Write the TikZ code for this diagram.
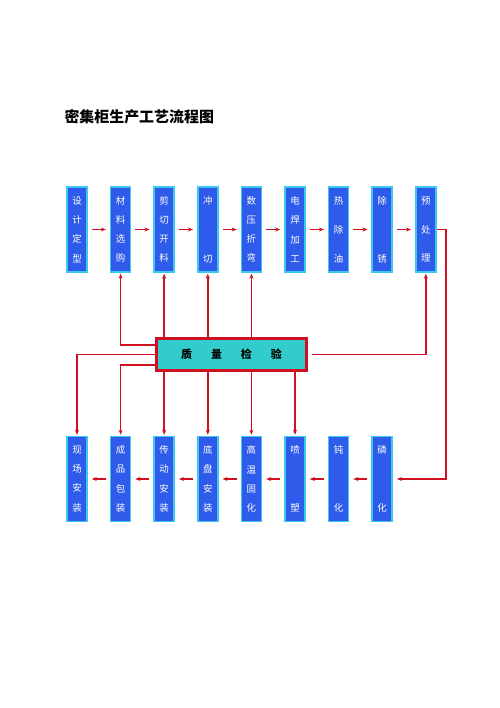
\documentclass[tikz,border=0pt]{standalone}
\usepackage{fontspec}
\newfontfamily\cjk{Noto Sans CJK SC}
\usetikzlibrary{arrows.meta}
\definecolor{boxblue}{HTML}{2E5BEA}
\definecolor{boxrim}{HTML}{3DC8F0}
\definecolor{checkfill}{HTML}{33CCCC}
\definecolor{linered}{HTML}{D01020}
\begin{document}
\begin{tikzpicture}[x=1bp,y=-1bp,
    stepbox/.style={draw=boxrim,fill=boxblue,line width=1.5bp,
      minimum width=20bp,minimum height=85bp,inner sep=0pt,
      text=white,align=center,font=\cjk\fontsize{9.5}{19.3}\selectfont},
    flow/.style={draw=linered,line width=1.1bp,
      -{Stealth[length=5bp,width=4bp]},shorten <=4bp,shorten >=4bp},
    check/.style={draw=linered,line width=1.6bp,
      -{Stealth[length=5bp,width=4bp]},shorten >=1bp}]
  \useasboundingbox (0,0) rectangle (500,708);
  \node[anchor=west,font=\cjk\bfseries\fontsize{15}{18}\selectfont] (title)
        at (61,117) {密集柜生产工艺流程图};
  \begin{scope}[shift={(0,229.5)}]
    \node[stepbox] (t1) at (77,0)    {设\\计\\定\\型};
    \node[stepbox] (t2) at (120.6,0) {材\\料\\选\\购};
    \node[stepbox] (t3) at (164.2,0) {剪\\切\\开\\料};
    \node[stepbox] (t4) at (207.8,0) {冲\\[38.7bp]切};
    \node[stepbox] (t5) at (251.4,0) {数\\压\\折\\弯};
    \node[stepbox] (t6) at (295,0)   {电\\焊\\加\\工};
    \node[stepbox] (t7) at (338.6,0) {热\\[9.7bp]除\\[9.7bp]油};
    \node[stepbox] (t8) at (382.2,0) {除\\[38.7bp]锈};
    \node[stepbox] (t9) at (425.8,0) {预\\[9.7bp]处\\[9.7bp]理};
  \end{scope}
  \draw[flow] (t1) -- (t2);
  \draw[flow] (t2) -- (t3);
  \draw[flow] (t3) -- (t4);
  \draw[flow] (t4) -- (t5);
  \draw[flow] (t5) -- (t6);
  \draw[flow] (t6) -- (t7);
  \draw[flow] (t7) -- (t8);
  \draw[flow] (t8) -- (t9);
  \begin{scope}[shift={(0,479)}]
    \node[stepbox] (b1) at (77,0)    {现\\场\\安\\装};
    \node[stepbox] (b2) at (120.6,0) {成\\品\\包\\装};
    \node[stepbox] (b3) at (164.2,0) {传\\动\\安\\装};
    \node[stepbox] (b4) at (207.8,0) {底\\盘\\安\\装};
    \node[stepbox] (b5) at (251.4,0) {高\\温\\固\\化};
    \node[stepbox] (b6) at (295,0)   {喷\\[38.7bp]塑};
    \node[stepbox] (b7) at (338.6,0) {钝\\[38.7bp]化};
    \node[stepbox] (b8) at (382.2,0) {磷\\[38.7bp]化};
  \end{scope}
  \draw[flow] (b8) -- (b7);
  \draw[flow] (b7) -- (b6);
  \draw[flow] (b6) -- (b5);
  \draw[flow] (b5) -- (b4);
  \draw[flow] (b4) -- (b3);
  \draw[flow] (b3) -- (b2);
  \draw[flow] (b2) -- (b1);
  \coordinate (turn) at (446,0);
  \draw[flow,line width=1.9bp,shorten <=0pt] (t9.east) -- (t9.east -| turn)
        -- (b8.east -| turn) -- (b8.east);
  \node[draw=linered,fill=checkfill,line width=3bp,minimum width=150bp,
        minimum height=32bp,font=\cjk\bfseries\fontsize{11}{13}\selectfont] (q)
        at (231.5,354.5) {质\hspace{19bp}量\hspace{19bp}检\hspace{19bp}验};
  \draw[check] ([yshift=9.5bp]q.west) -| (t2.south);
  \draw[check] (q.north -| t3) -- (t3.south);
  \draw[check] (q.north -| t4) -- (t4.south);
  \draw[check] (q.north -| t5) -- (t5.south);
  \draw[check,shorten <=4bp] (q.east) -| (t9.south);
  \draw[check] (q.west) -| (b1.north);
  \draw[check] ([yshift=-10.5bp]q.west) -| (b2.north);
  \draw[check] (q.south -| b3) -- (b3.north);
  \draw[check] (q.south -| b4) -- (b4.north);
  \draw[check] (q.south -| b5) -- (b5.north);
  \draw[check] (q.south -| b6) -- (b6.north);
\end{tikzpicture}
\end{document}
